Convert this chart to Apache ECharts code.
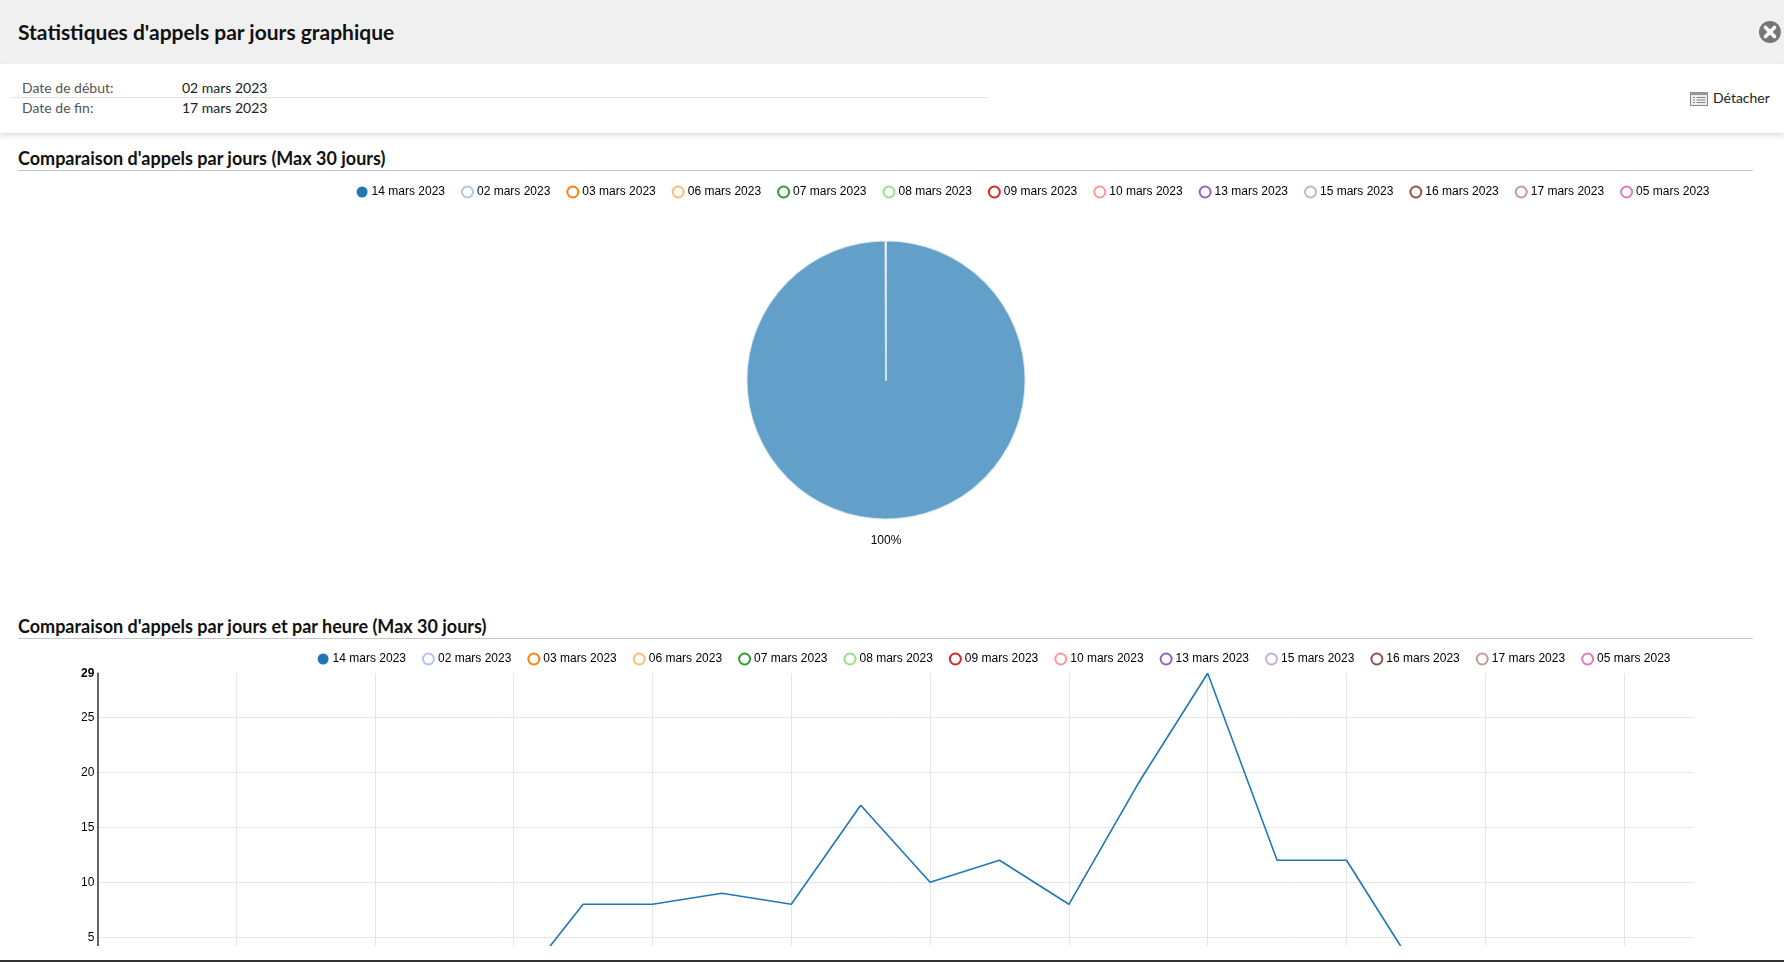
<!DOCTYPE html>
<html>
<head>
<meta charset="utf-8">
<script src="https://cdn.jsdelivr.net/npm/echarts@6/dist/echarts.min.js"></script>
<style>
html,body{margin:0;padding:0;background:#fff;width:1784px;height:962px;overflow:hidden;font-family:Lato,"Noto Sans",sans-serif;}
#page{position:absolute;left:0;top:0;width:1784px;height:946px;overflow:hidden;background:#fff;}
#header{position:absolute;left:0;top:0;width:1784px;height:64px;background:#f0f0f0;}
#title{position:absolute;left:18px;top:19px;font-size:21px;font-weight:700;color:#111;line-height:26px;white-space:nowrap;}
#close{position:absolute;left:1759px;top:21px;width:22px;height:22px;}
#info{position:absolute;left:0;top:64px;width:1784px;height:69px;background:#fff;box-shadow:0 3px 5px rgba(0,0,0,0.12);z-index:2;}
.lbl{position:absolute;left:22px;font-size:14px;color:#555;line-height:18px;white-space:nowrap;}
.val{position:absolute;left:182px;font-size:14px;color:#222;line-height:18px;white-space:nowrap;}
#sep{position:absolute;left:11px;top:33px;width:977px;height:1px;background:#e2e2e2;}
#detach{position:absolute;left:1690px;top:25px;font-size:14px;color:#222;line-height:18px;white-space:nowrap;}
#detach svg{vertical-align:-3px;margin-right:5px;}
.sect{position:absolute;left:18px;font-size:18px;font-weight:700;color:#111;line-height:22px;white-space:nowrap;}
.rule{position:absolute;left:18px;width:1735px;height:1px;background:#c8c8c8;}
#pie{position:absolute;left:0;top:175px;width:1784px;height:400px;}
#line{position:absolute;left:0;top:645px;width:1784px;height:420px;}
#bottombar{position:absolute;left:0;top:960px;width:1784px;height:2px;background:#333;}
</style>
</head>
<body>
<div id="page">
  <div id="header">
    <div id="title">Statistiques d'appels par jours graphique</div>
    <svg id="close" viewBox="0 0 22 22"><circle cx="11" cy="11" r="11" fill="#777"/><path d="M6.5 6.5 L15.5 15.5 M15.5 6.5 L6.5 15.5" stroke="#fff" stroke-width="3.6" stroke-linecap="round"/></svg>
  </div>
  <div id="info">
    <div class="lbl" style="top:15px">Date de début:</div>
    <div class="val" style="top:15px">02 mars 2023</div>
    <div id="sep"></div>
    <div class="lbl" style="top:35px">Date de fin:</div>
    <div class="val" style="top:35px">17 mars 2023</div>
    <div id="detach"><svg width="18" height="14" viewBox="0 0 18 14"><rect x="0.5" y="0.5" width="17" height="13" fill="#eee" stroke="#888"/><rect x="0.5" y="0.5" width="17" height="2.5" fill="#999"/><path d="M3 5.5h2M6.5 5.5h9M3 8h2M6.5 8h9M3 10.5h2M6.5 10.5h9" stroke="#8a8a8a" stroke-width="1.2"/></svg>Détacher</div>
  </div>
  <div class="sect" style="top:147px">Comparaison d'appels par jours (Max 30 jours)</div>
  <div class="rule" style="top:170px"></div>
  <div id="pie"></div>
  <div class="sect" style="top:615px">Comparaison d'appels par jours et par heure (Max 30 jours)</div>
  <div class="rule" style="top:638px"></div>
  <div id="line"></div>
</div>
<div id="bottombar"></div>
<script>
// ---- data ----
var days = ['14 mars 2023','02 mars 2023','03 mars 2023','06 mars 2023','07 mars 2023','08 mars 2023','09 mars 2023','10 mars 2023','13 mars 2023','15 mars 2023','16 mars 2023','17 mars 2023','05 mars 2023'];
var dayColors = ['#1f77b4','#aec7e8','#ff7f0e','#ffbb78','#2ca02c','#98df8a','#d62728','#ff9896','#9467bd','#c5b0d5','#8c564b','#c49c94','#e377c2'];
var activeDay = '14 mars 2023';
var pieValues = [100];           // share of the only displayed day
var hours = [0,1,2,3,4,5,6,7,8,9,10,11,12,13,14,15,16,17,18,19,20,21,22,23];
var callsPerHour = [0,0,0,0,0,0,0,8,8,9,8,17,10,12,8,19,29,12,12,2,0,0,0,0];
var yTicks = [0,5,10,15,20,25,29];

// ---- legend ----
function legendData(){
  return days.map(function(d,i){
    var on = d === activeDay;
    return {name:d, icon:'circle', itemStyle: on ? {color:dayColors[i], borderWidth:0, opacity:1} : {color:'#fff', borderColor:dayColors[i], borderWidth:2, opacity:1}};
  });
}
function legendCfg(top,right){
  return {top:top, right:right, itemWidth:11, itemHeight:11, itemGap:16, selectedMode:false,
    textStyle:{fontFamily:'Liberation Sans, Arial, sans-serif', fontSize:12, color:'#000', padding:[0,0,0,-1]},
    data:legendData()};
}

// ---- pie ----
var pie = echarts.init(document.getElementById('pie'), null, {renderer:'canvas'});
var pieData = days.map(function(d,i){
  return {name:d, value: d === activeDay ? pieValues[0] : '-', itemStyle:{color:dayColors[i], opacity:0.7}};
});
pie.setOption({
  animation:false,
  legend: legendCfg(5.5, 69.5),
  series:[{
    type:'pie', center:[886,205], radius:139.5, startAngle:90, endAngle:-269.8, clockwise:true,
    itemStyle:{borderColor:'#fff', borderWidth:2},
    label:{show:true, position:'center', offset:[0,161], formatter:'{d}%', fontFamily:'Liberation Sans, Arial, sans-serif', fontSize:12, color:'#000', opacity:1},
    labelLine:{show:false},
    emphasis:{disabled:true},
    data: pieData
  }]
});

// ---- line ----
var line = echarts.init(document.getElementById('line'), null, {renderer:'canvas'});
var series = days.map(function(d,i){
  var data = d === activeDay ? hours.map(function(h,k){return [h, callsPerHour[k]];}) : [];
  return {name:d, type:'line', data:data, showSymbol:false, symbol:'none', color:dayColors[i],
    lineStyle:{width:1.6, color:dayColors[i]}, emphasis:{disabled:true}};
});
var splitColors = yTicks.map(function(v,i){return i === yTicks.length-1 ? 'rgba(0,0,0,0)' : '#e6e6e6';});
var xSplitColors = [];
for (var k=0;k<=12;k++) xSplitColors.push(k===12 ? 'rgba(0,0,0,0)' : '#e6e6e6');
line.setOption({
  animation:false,
  legend: legendCfg(2.5, 108.5),
  grid:{left:97.3, right:90.5, top:28.3, height:319, containLabel:false},
  xAxis:{type:'value', min:hours[0], max:hours[hours.length-1], interval:2,
    axisLine:{show:false}, axisTick:{show:false}, axisLabel:{show:false},
    splitLine:{show:true, lineStyle:{color:xSplitColors, width:1}}},
  yAxis:{type:'value', min:yTicks[0], max:yTicks[yTicks.length-1], interval:5,
    axisLine:{show:true, lineStyle:{color:'#333', width:1.5}}, axisTick:{show:false},
    axisLabel:{margin:3, fontFamily:'Liberation Sans, Arial, sans-serif', fontSize:12, color:'#000',
      formatter:function(v){ return v === yTicks[yTicks.length-1] ? '{b|'+v+'}' : ''+v; },
      rich:{b:{fontWeight:'bold', fontSize:12, fontFamily:'Liberation Sans, Arial, sans-serif', color:'#000'}}},
    splitLine:{show:true, lineStyle:{color:splitColors, width:1}}},
  series: series
});
</script>
</body>
</html>
